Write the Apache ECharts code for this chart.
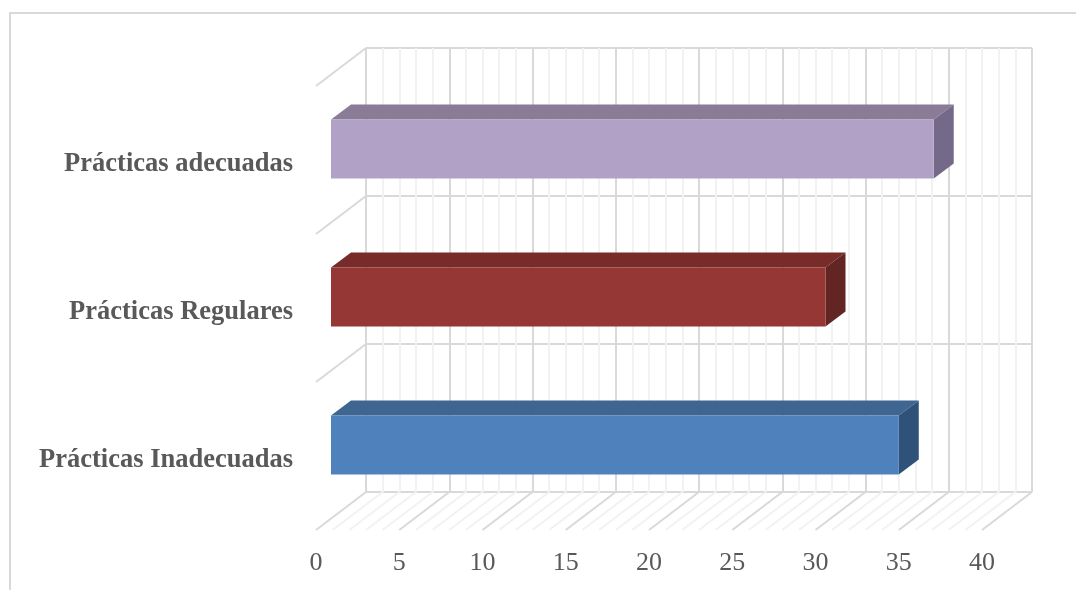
<!DOCTYPE html>
<html>
<head>
<meta charset="utf-8">
<style>html,body{margin:0;padding:0;background:#fff}#chart{width:1076px;height:590px}</style>
<script src="https://cdn.jsdelivr.net/npm/echarts@6/dist/echarts.min.js"></script>
</head>
<body>
<div id="chart"></div>
<script>
// Chart data
const categories = ['Prácticas Inadecuadas', 'Prácticas Regulares', 'Prácticas adecuadas'];
const values = [34.1, 29.7, 36.2];
const unitTicks = [];
for (let t = 0; t <= 40; t++) unitTicks.push(t);

// Faces of each box: front, top, side
const palette = [
  { front: '#4f81bd', top: '#3f6591', side: '#2f5279' },
  { front: '#953735', top: '#772c2a', side: '#632523' },
  { front: '#b2a1c7', top: '#8a7b97', side: '#75698a' }
];

// Oblique projection: how far the floor and the boxes step out from the back wall
const floorDepth = [-50, 38];
const barFront = [-35, 27];
const barDepth = [20, -15];
const major = '#d9d9d9', minor = '#f2f2f2';

// Back wall carries the gridlines; the label plane sits at the front edge of the floor
const wall = { left: 366, top: 48, width: 666, height: 444 };
const labelDrop = 4;
const labelPlane = { left: wall.left + floorDepth[0], top: wall.top + floorDepth[1] + labelDrop, width: wall.width, height: wall.height };

const poly = (pts, fill) => ({ type: 'polygon', shape: { points: pts }, style: { fill: fill } });

function renderFloor(params, api) {
  const t = api.value(0);
  const p = api.coord([t, 0]);
  const y = wall.top + wall.height;
  return {
    type: 'line',
    z2: t % 5 === 0 ? 2 : 1,
    shape: { x1: p[0], y1: y, x2: p[0] + floorDepth[0], y2: y + floorDepth[1] },
    style: { stroke: t % 5 === 0 ? major : minor, lineWidth: 2 }
  };
}

function renderSide(params, api) {
  const i = api.value(0);
  const p = api.coord([0, i]);
  const half = api.size([0, 1])[1] / 2;
  const y = p[1] - half;
  return {
    type: 'line',
    shape: { x1: p[0], y1: y, x2: p[0] + floorDepth[0], y2: y + floorDepth[1] },
    style: { stroke: major, lineWidth: 2 }
  };
}

function renderBox(params, api) {
  const v = api.value(0), i = api.value(1);
  const start = api.coord([0, i]);
  const end = api.coord([v, i]);
  const h = api.size([0, 1])[1] * 0.4;
  const x0 = start[0] + barFront[0], x1 = end[0] + barFront[0];
  const y0 = start[1] + barFront[1] - h / 2, y1 = y0 + h;
  const dx = barDepth[0], dy = barDepth[1];
  const c = palette[i];
  return {
    type: 'group',
    children: [
      poly([[x0, y0], [x1, y0], [x1 + dx, y0 + dy], [x0 + dx, y0 + dy]], c.top),
      poly([[x1, y0], [x1 + dx, y0 + dy], [x1 + dx, y1 + dy], [x1, y1]], c.side),
      { type: 'rect', shape: { x: x0, y: y0, width: x1 - x0, height: h }, style: { fill: c.front } }
    ]
  };
}

const chart = echarts.init(document.getElementById('chart'), null, { renderer: 'canvas' });
chart.setOption({
  animation: false,
  backgroundColor: '#ffffff',
  textStyle: { fontFamily: 'Liberation Serif' },
  graphic: [{
    type: 'polyline',
    silent: true,
    shape: { points: [[10, 590], [10, 13], [1076, 13]] },
    style: { stroke: major, lineWidth: 2, fill: null }
  }],
  grid: [
    { ...wall, containLabel: false },
    { ...labelPlane, containLabel: false }
  ],
  xAxis: [
    {
      gridIndex: 0, type: 'value', min: 0, max: 40, interval: 5,
      axisLine: { show: false }, axisTick: { show: false }, axisLabel: { show: false },
      splitLine: { show: true, lineStyle: { color: major, width: 2 } },
      minorTick: { show: false, splitNumber: 5 },
      minorSplitLine: { show: true, lineStyle: { color: minor, width: 2 } }
    },
    {
      gridIndex: 1, type: 'value', min: 0, max: 40, interval: 5,
      axisLine: { show: false }, axisTick: { show: false }, splitLine: { show: false },
      axisLabel: { show: true, margin: 16, color: '#595959', fontSize: 26, fontFamily: 'Liberation Serif' }
    }
  ],
  yAxis: [
    {
      gridIndex: 0, type: 'category', data: categories,
      axisLine: { show: false }, axisTick: { show: false }, axisLabel: { show: false },
      splitLine: { show: true, lineStyle: { color: major, width: 2 } }
    },
    {
      gridIndex: 1, type: 'category', data: categories,
      axisLine: { show: false }, axisTick: { show: false }, splitLine: { show: false },
      axisLabel: { show: true, margin: 23, color: '#595959', fontSize: 26.5, fontWeight: 'bold', fontFamily: 'Liberation Serif' }
    }
  ],
  series: [
    {
      type: 'custom', xAxisIndex: 0, yAxisIndex: 0, silent: true, clip: false, z: 1,
      renderItem: renderFloor, data: unitTicks.map(t => [t]), encode: { x: 0 }
    },
    {
      type: 'custom', xAxisIndex: 0, yAxisIndex: 0, silent: true, clip: false, z: 1,
      renderItem: renderSide, data: [0, 1, 2, 3].map(i => [i]), encode: { y: 0 }
    },
    {
      type: 'custom', xAxisIndex: 0, yAxisIndex: 0, silent: true, clip: false, z: 3,
      renderItem: renderBox, data: values.map((v, i) => [v, i]), encode: { x: 0, y: 1 }
    }
  ]
});
</script>
</body>
</html>
